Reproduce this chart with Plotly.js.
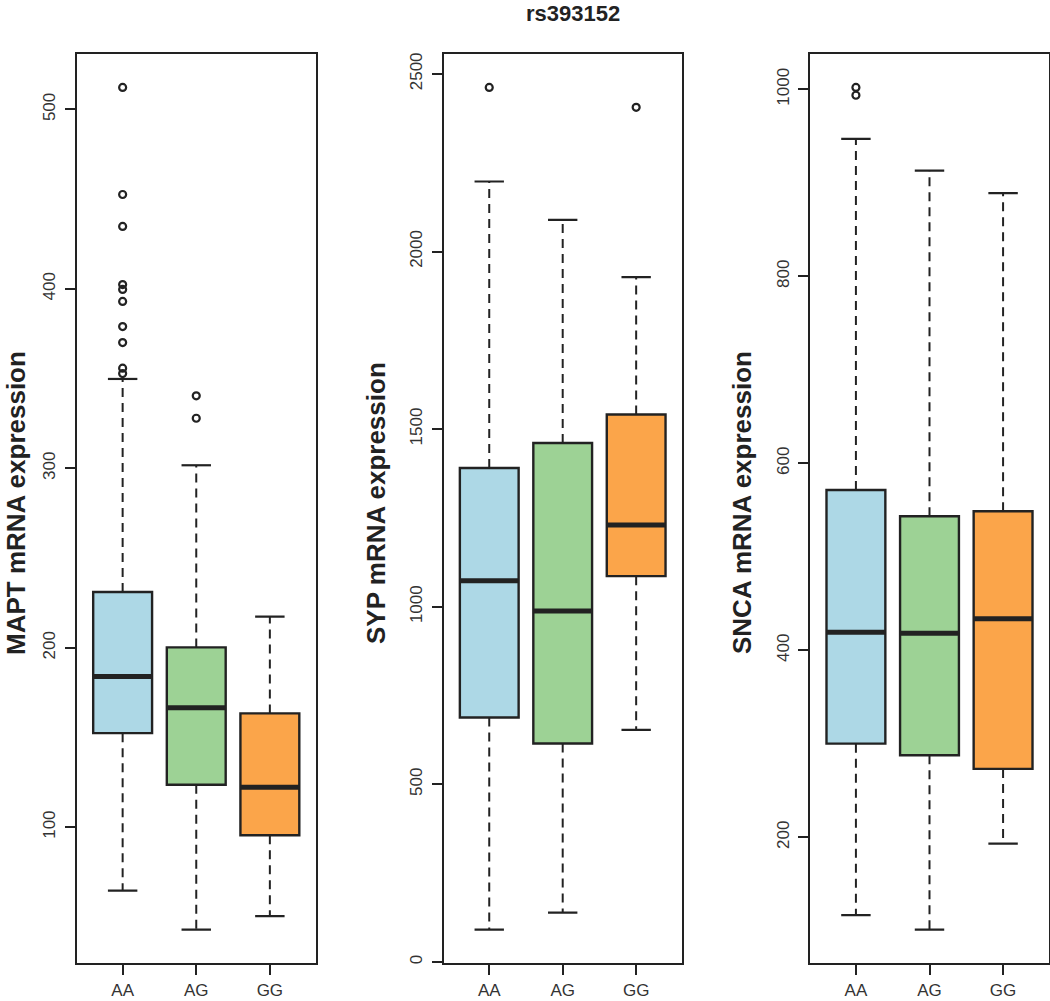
<!DOCTYPE html>
<html>
<head>
<meta charset="utf-8">
<script src="https://cdn.plot.ly/plotly-3.0.1.min.js"></script>
<style>html,body{margin:0;padding:0;background:#fff;}#chart{width:1050px;height:1001px;}</style>
</head>
<body>
<div id="chart"></div>
<script>
// ---- data ----
const categories = ["AA", "AG", "GG"];
const boxColors = ["#ADD8E6", "#9DD295", "#FBA54A"];

const maptLow    = [64.6, 42.9, 50.4];
const maptQ1     = [152.4, 123.6, 95.5];
const maptMedian = [184.0, 166.5, 122.3];
const maptQ3     = [231.1, 200.2, 163.4];
const maptHigh   = [349.8, 301.7, 217.3];
const maptOutGroup = ["AA","AA","AA","AA","AA","AA","AA","AA","AA","AA","AG","AG"];
const maptOutValue = [512.3, 452.6, 434.8, 402.4, 399.7, 393.0, 379.0, 370.1, 355.8, 352.8, 340.4, 327.9];

const sypLow    = [91, 139, 653.5];
const sypQ1     = [688, 615, 1086];
const sypMedian = [1073, 988, 1230];
const sypQ3     = [1390.7, 1461, 1541];
const sypHigh   = [2197, 2089, 1928];
const sypOutGroup = ["AA", "GG"];
const sypOutValue = [2462, 2406];

const sncaLow    = [116.6, 101.2, 193.2];
const sncaQ1     = [300.1, 287.7, 273.1];
const sncaMedian = [419.3, 418.2, 433.8];
const sncaQ3     = [571.4, 543.3, 548.7];
const sncaHigh   = [947, 913, 889];
const sncaOutGroup = ["AA", "AA"];
const sncaOutValue = [1002, 993.6];

const mainTitle = "rs393152";
const yTitles = ["MAPT mRNA expression", "SYP mRNA expression", "SNCA mRNA expression"];
const yDticks = [100, 500, 200];

// ---- styling ----
const FONT = "Liberation Sans, Arial, Helvetica, sans-serif";
const INK = "#222222";
const W = 1050, H = 1001;
const xDomains = [[77/W, 315.5/W], [443.7/W, 681.7/W], [810.3/W, 1048.7/W]];
const yDomain = [1 - 963.3/H, 1 - 53.7/H];
const titleX = [0, 376, 742];
const titleAnchor = ["left", "center", "center"];
const boxHalf = 0.4, capHalf = 0.2;

const panels = [
  {low: maptLow, q1: maptQ1, med: maptMedian, q3: maptQ3, high: maptHigh, og: maptOutGroup, ov: maptOutValue},
  {low: sypLow, q1: sypQ1, med: sypMedian, q3: sypQ3, high: sypHigh, og: sypOutGroup, ov: sypOutValue},
  {low: sncaLow, q1: sncaQ1, med: sncaMedian, q3: sncaQ3, high: sncaHigh, og: sncaOutGroup, ov: sncaOutValue}
];

const traces = [];
const layout = {
  width: W, height: H,
  margin: {l: 0, r: 0, t: 0, b: 0},
  paper_bgcolor: "#ffffff",
  plot_bgcolor: "#ffffff",
  showlegend: false,
  font: {family: FONT, color: INK},
  annotations: [{
    text: mainTitle, xref: "paper", yref: "paper",
    x: 573/W, y: 1, xanchor: "center", yanchor: "top", borderpad: 0,
    showarrow: false, font: {family: FONT, size: 22, weight: "bold", color: INK}
  }]
};

panels.forEach((p, i) => {
  const sfx = i === 0 ? "" : String(i + 1);
  const xa = "x" + sfx, ya = "y" + sfx;
  const xs = categories.map((c, k) => k + 1);

  // dashed whiskers
  const wx = [], wy = [];
  xs.forEach((x, k) => {
    wx.push(x, x, null, x, x, null);
    wy.push(p.q3[k], p.high[k], null, p.q1[k], p.low[k], null);
  });
  traces.push({type: "scatter", mode: "lines", x: wx, y: wy, xaxis: xa, yaxis: ya,
    line: {color: INK, width: 2, dash: "9px,6px"}, hoverinfo: "skip"});

  // whisker caps
  const cx = [], cy = [];
  xs.forEach((x, k) => {
    cx.push(x - capHalf, x + capHalf, null, x - capHalf, x + capHalf, null);
    cy.push(p.high[k], p.high[k], null, p.low[k], p.low[k], null);
  });
  traces.push({type: "scatter", mode: "lines", x: cx, y: cy, xaxis: xa, yaxis: ya,
    line: {color: INK, width: 2.2}, hoverinfo: "skip"});

  // boxes
  xs.forEach((x, k) => {
    traces.push({type: "box", x: [x], q1: [p.q1[k]], median: [p.med[k]], q3: [p.q3[k]],
      lowerfence: [p.q1[k]], upperfence: [p.q3[k]], width: 2 * boxHalf,
      fillcolor: boxColors[k], line: {color: INK, width: 2.4},
      whiskerwidth: 0, boxpoints: false, xaxis: xa, yaxis: ya, hoverinfo: "skip"});
  });

  // thick medians
  const mx = [], my = [];
  xs.forEach((x, k) => {
    mx.push(x - boxHalf, x + boxHalf, null);
    my.push(p.med[k], p.med[k], null);
  });
  traces.push({type: "scatter", mode: "lines", x: mx, y: my, xaxis: xa, yaxis: ya,
    line: {color: INK, width: 5}, hoverinfo: "skip"});

  // outliers
  traces.push({type: "scatter", mode: "markers",
    x: p.og.map(g => categories.indexOf(g) + 1), y: p.ov, xaxis: xa, yaxis: ya,
    marker: {symbol: "circle-open", size: 7, color: INK, line: {width: 2.2, color: INK}},
    hoverinfo: "skip"});

  // range like R (4% padding)
  const all = p.low.concat(p.ov, p.high);
  const mn = Math.min.apply(null, all), mx2 = Math.max.apply(null, all);
  const pad = 0.04 * (mx2 - mn);

  layout["xaxis" + sfx] = {
    domain: xDomains[i], anchor: ya, range: [0.5 - 0.12, 3.5 + 0.12],
    tickmode: "array", tickvals: xs, ticktext: categories,
    showline: true, mirror: true, linecolor: INK, linewidth: 2,
    ticks: "outside", ticklen: 10, tickwidth: 2, tickcolor: INK,
    showgrid: false, zeroline: false, fixedrange: true,
    tickfont: {family: FONT, size: 17, color: "#333333"}
  };
  layout["yaxis" + sfx] = {
    domain: yDomain, anchor: xa, range: [mn - pad, mx2 + pad],
    tick0: 0, dtick: yDticks[i], tickangle: -90,
    showline: true, mirror: true, linecolor: INK, linewidth: 2,
    ticks: "outside", ticklen: 10, tickwidth: 2, tickcolor: INK,
    ticklabelstandoff: 3,
    showgrid: false, zeroline: false, fixedrange: true,
    tickfont: {family: FONT, size: 17, color: "#333333"}
  };
  layout.annotations.push({
    text: yTitles[i], xref: "paper", yref: "paper",
    x: titleX[i]/W, y: 1 - 503/H, xanchor: titleAnchor[i], yanchor: "middle",
    textangle: -90, showarrow: false, borderpad: 0,
    font: {family: FONT, size: 26, weight: "bold", color: INK}
  });
});

Plotly.newPlot("chart", traces, layout, {staticPlot: true, displayModeBar: false});
</script>
</body>
</html>
